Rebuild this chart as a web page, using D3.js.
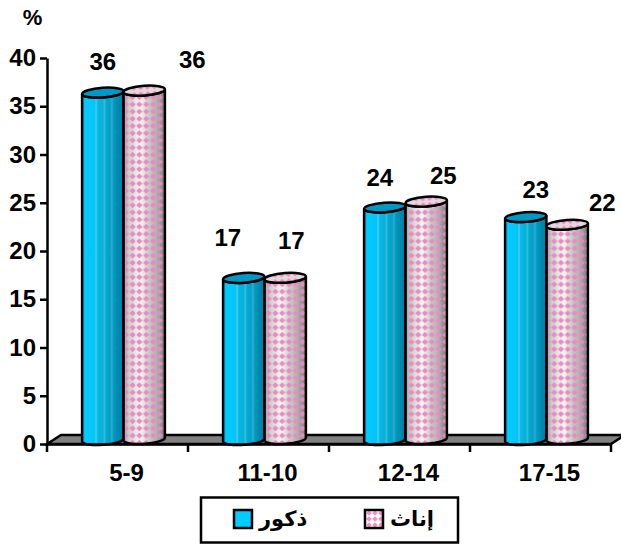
<!DOCTYPE html>
<html>
<head>
<meta charset="utf-8">
<script src="https://cdn.jsdelivr.net/npm/d3@7"></script>
<style>
  html, body { margin: 0; padding: 0; background: #fff; }
  svg { display: block; font-family: "Liberation Sans", "DejaVu Sans", sans-serif; font-weight: bold; }
  .axis .domain, .axis line { stroke: #000; stroke-width: 2.5; }
  .axis text { fill: #000; font-weight: bold; }
</style>
</head>
<body>
<div id="chart"></div>
<script>
const categories = ["5-9", "11-10", "12-14", "17-15"];
// bar heights as drawn, the printed labels are these rounded
const males = [36, 16.8, 24.1, 23.1];
const females = [36.1, 16.7, 24.6, 22.2];
const seriesNames = ["ذكور", "إناث"];
const yTicks = [0, 5, 10, 15, 20, 25, 30, 35, 40];

// the value labels sit a bit off the bars in the original, nudges from bar centre / top
const maleLabelNudge = [[0, -27], [-16, -36], [-5, -25], [10, -23]];
const femaleLabelNudge = [[48, -28], [6, -34], [17, -23], [35, -19]];

const width = 621, height = 544;
const margin = { left: 47, right: 10, top: 58, bottom: 100 };
const depth = { x: 14, y: 9 };

const svg = d3.select("#chart").append("svg")
  .attr("width", width)
  .attr("height", height);

const defs = svg.append("defs");

function gradient(id, stops) {
  defs.append("linearGradient")
    .attr("id", id)
    .selectAll("stop")
    .data(stops)
    .join("stop")
      .attr("offset", d => d[0])
      .attr("stop-color", d => d[1]);
}

gradient("blueSide", [
  [0, "#00a8d8"], [0.08, "#00ccff"], [0.3, "#08c4f4"], [0.34, "#40d0f4"], [0.38, "#06b8e4"],
  [0.5, "#08b0d8"], [0.54, "#38bcdc"], [0.58, "#04a8d0"], [0.68, "#04a0c8"], [0.72, "#30acd0"],
  [0.77, "#0098c0"], [1, "#007a9e"]
]);
gradient("pinkSide", [
  [0, "#a0a0a0"], [0.12, "#cccccc"], [0.3, "#e8e8e8"], [0.42, "#f4f4f4"], [0.6, "#cccccc"],
  [0.8, "#b0b0b0"], [1, "#787878"]
]);

const dots = defs.append("pattern")
  .attr("id", "pinkDots")
  .attr("patternUnits", "userSpaceOnUse")
  .attr("width", 6.8)
  .attr("height", 7.2);
dots.append("path").attr("d", "M3.4 0.6L6.6 3.6L3.4 6.6L0.2 3.6Z").attr("fill", "#e88cc0");

const swatchDots = defs.append("pattern")
  .attr("id", "swatchDots")
  .attr("patternUnits", "userSpaceOnUse")
  .attr("width", 6)
  .attr("height", 6);
swatchDots.append("rect").attr("width", 6).attr("height", 6).attr("fill", "#fff");
swatchDots.append("path").attr("d", "M3 0.2L5.8 3L3 5.8L0.2 3Z").attr("fill", "#f090c8");

const x = d3.scaleBand()
  .domain(categories)
  .range([margin.left, width - margin.right]);

const y = d3.scaleLinear()
  .domain([0, 40])
  .range([height - margin.bottom, margin.top]);

const inner = d3.scaleBand()
  .domain([0, 1])
  .range([0, 83]);

const y0 = y(0);

// floor
svg.append("path")
  .attr("d", `M${x.range()[0]},${y0}L${x.range()[0] + depth.x},${y0 - depth.y}H${x.range()[1] + depth.x}L${x.range()[1]},${y0}Z`)
  .attr("fill", "#808080")
  .attr("stroke", "#000")
  .attr("stroke-width", 2.5);

const tilt = 4 * Math.PI / 180;
const rx = 20.7, ry = 4.8;

function cylinder(cx, top, base) {
  const dx = rx * Math.cos(tilt), dy = rx * Math.sin(tilt);
  return `M${cx - dx},${top + dy}L${cx - dx},${base + dy}`
    + `A${rx},${ry} -4 0 0 ${cx + dx},${base - dy}`
    + `L${cx + dx},${top - dy}`
    + `A${rx},${ry} -4 0 1 ${cx - dx},${top + dy}Z`;
}

const series = [
  { values: males, side: "url(#blueSide)", lift: 4, topFill: ["#0098c4"] },
  { values: females, side: "url(#pinkSide)", lift: 5, topFill: ["#e2d8de", "url(#pinkDots)"] }
];

function barX(i, s) {
  return x(categories[i]) + 35 + inner(s) + inner.bandwidth() / 2;
}

series.forEach((s, si) => {
  const g = svg.append("g").attr("class", "series");
  const bars = g.selectAll("g")
    .data(s.values)
    .join("g");

  bars.append("path")
    .attr("d", (d, i) => cylinder(barX(i, si), y(d) - s.lift, y0 - s.lift))
    .attr("fill", s.side);

  if (si === 1) {
    bars.append("path")
      .attr("d", (d, i) => cylinder(barX(i, si), y(d) - s.lift, y0 - s.lift))
      .attr("fill", "url(#pinkDots)");
  }

  bars.append("path")
    .attr("d", (d, i) => cylinder(barX(i, si), y(d) - s.lift, y0 - s.lift))
    .attr("fill", "none")
    .attr("stroke", "#000")
    .attr("stroke-width", 2.5);

  s.topFill.forEach(fill => {
    bars.append("ellipse")
      .attr("rx", rx)
      .attr("ry", ry)
      .attr("transform", (d, i) => `translate(${barX(i, si)},${y(d) - s.lift}) rotate(-4)`)
      .attr("fill", fill);
  });

  bars.append("ellipse")
    .attr("rx", rx)
    .attr("ry", ry)
    .attr("transform", (d, i) => `translate(${barX(i, si)},${y(d) - s.lift}) rotate(-4)`)
    .attr("fill", "none")
    .attr("stroke", "#000")
    .attr("stroke-width", 2.5);
});

// axes
const yAxis = svg.append("g")
  .attr("class", "axis")
  .attr("transform", `translate(${margin.left},0)`)
  .call(d3.axisLeft(y).tickValues(yTicks).tickSize(7).tickSizeOuter(0).tickPadding(4));
yAxis.selectAll("text").style("font-size", "24px").attr("dy", "0.32em");

const xAxis = svg.append("g")
  .attr("class", "axis")
  .attr("transform", `translate(0,${y0})`)
  .call(d3.axisBottom(x).tickSize(0).tickPadding(20));
xAxis.selectAll(".tick text")
  .style("font-size", "24px")
  .attr("x", 9);

xAxis.selectAll(".edge")
  .data(d3.range(categories.length + 1))
  .join("line")
    .attr("class", "edge")
    .attr("x1", i => x.range()[0] + i * x.step())
    .attr("x2", i => x.range()[0] + i * x.step())
    .attr("y1", 0)
    .attr("y2", 8);

// value labels
const labels = svg.append("g").style("font-size", "24px").attr("text-anchor", "middle");
[[males, maleLabelNudge, 0], [females, femaleLabelNudge, 1]].forEach(([values, nudge, si]) => {
  labels.selectAll(null)
    .data(values)
    .join("text")
      .attr("x", (d, i) => barX(i, si) + nudge[i][0])
      .attr("y", (d, i) => y(d) + nudge[i][1])
      .text(d => d3.format(".0f")(d));
});

svg.append("text")
  .attr("x", 32.5)
  .attr("y", 25)
  .attr("text-anchor", "middle")
  .style("font-size", "22px")
  .text("%");

// legend
const legend = svg.append("g");
legend.append("rect")
  .attr("x", 201)
  .attr("y", 497.5)
  .attr("width", 257)
  .attr("height", 45)
  .attr("fill", "#fff")
  .attr("stroke", "#000")
  .attr("stroke-width", 2.5);

const legendSwatchX = [234, 365];
const legendFill = ["#00ccff", "url(#swatchDots)"];

legend.selectAll("rect.swatch")
  .data(seriesNames)
  .join("rect")
    .attr("class", "swatch")
    .attr("x", (d, i) => legendSwatchX[i])
    .attr("y", 510)
    .attr("width", 18)
    .attr("height", 18)
    .attr("fill", (d, i) => legendFill[i])
    .attr("stroke", "#000")
    .attr("stroke-width", 2.5);

legend.selectAll("text")
  .data(seriesNames)
  .join("text")
    .attr("x", (d, i) => legendSwatchX[i] + 25)
    .attr("y", 526)
    .attr("text-anchor", "start")
    .style("font-size", "21px")
    .text(d => d);
</script>
</body>
</html>
